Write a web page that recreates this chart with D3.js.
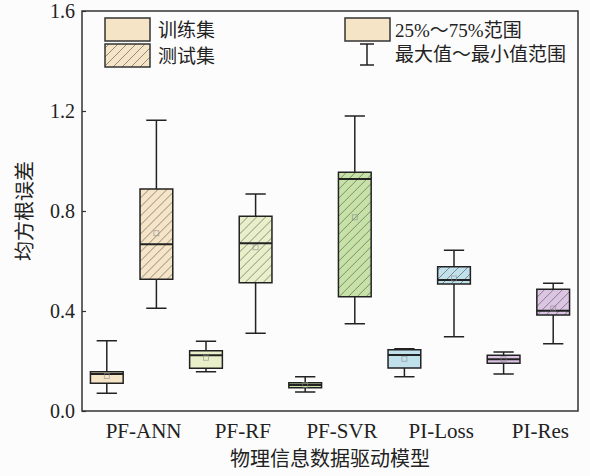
<!DOCTYPE html>
<html>
<head>
<meta charset="utf-8">
<script src="https://cdn.jsdelivr.net/npm/d3@7/dist/d3.min.js"></script>
<style>
  html, body { margin: 0; padding: 0; background: #fcfcfc; overflow: hidden; }
  svg { display: block; }
  text { font-family: "Liberation Serif", "Noto Sans CJK SC", serif; fill: #222; }
  .cjk { font-family: "Noto Sans CJK SC", "Liberation Serif", serif; }
</style>
</head>
<body>
<svg id="chart" width="590" height="476"></svg>
<script>
// models on the x axis
const categories = ['PF-ANN', 'PF-RF', 'PF-SVR', 'PI-Loss', 'PI-Res'];
const colors = ['#f5e4c6', '#e9efc9', '#c6e2a6', '#c0e0ec', '#dcc4e3'];

// [min, q1, median, q3, max, mean] of RMSE
const trainStats = [
  [0.071, 0.111, 0.148, 0.157, 0.281, 0.140],
  [0.157, 0.171, 0.223, 0.241, 0.279, 0.213],
  [0.076, 0.093, 0.104, 0.113, 0.137, 0.104],
  [0.137, 0.172, 0.224, 0.245, 0.249, 0.209],
  [0.148, 0.191, 0.207, 0.223, 0.236, 0.207]
];
const testStats = [
  [0.411, 0.527, 0.667, 0.888, 1.163, 0.711],
  [0.311, 0.513, 0.671, 0.779, 0.868, 0.655],
  [0.349, 0.457, 0.928, 0.955, 1.180, 0.775],
  [0.297, 0.508, 0.524, 0.577, 0.643, 0.530],
  [0.269, 0.384, 0.401, 0.487, 0.511, 0.410]
];
const yTicks = [0, 0.4, 0.8, 1.2, 1.6];
const sets = ['train', 'test'];

const svg = d3.select('#chart');
const margin = { top: 11, right: 12, bottom: 65, left: 82 };
const width = +svg.attr('width');
const height = +svg.attr('height');
const innerWidth = width - margin.left - margin.right;
const innerHeight = height - margin.top - margin.bottom;

// hatch pattern for the test set
const defs = svg.append('defs');
defs.append('pattern')
    .attr('id', 'hatch')
    .attr('patternUnits', 'userSpaceOnUse')
    .attr('width', 9)
    .attr('height', 9)
  .append('path')
    .attr('d', 'M-1,1 l2,-2 M0,9 l9,-9 M8,10 l2,-2')
    .attr('stroke', '#555')
    .attr('stroke-width', 0.8)
    .attr('opacity', 0.8);

const xScale = d3.scaleBand()
    .domain(categories)
    .range([0, innerWidth]);

const xInner = d3.scaleBand()
    .domain(sets)
    .range([0, xScale.bandwidth()]);

const yScale = d3.scaleLinear()
    .domain([0, 1.6])
    .range([innerHeight, 0]);

const g = svg.append('g')
    .attr('transform', `translate(${margin.left}, ${margin.top})`);

// boxes
const boxW = xInner.bandwidth() * 0.66;
const capW = boxW * 0.62;
const rows = [];
categories.forEach((c, i) => {
    rows.push({ cat: c, set: 'train', s: trainStats[i], color: colors[i] });
    rows.push({ cat: c, set: 'test', s: testStats[i], color: colors[i] });
});

const boxes = g.selectAll('.box')
  .data(rows)
  .enter()
  .append('g')
    .attr('class', 'box')
    .attr('transform', d => `translate(${xScale(d.cat) + xInner(d.set) + xInner.bandwidth() / 2}, 0)`);

// whiskers
boxes.append('line')
    .attr('x1', 0).attr('x2', 0)
    .attr('y1', d => yScale(d.s[0]))
    .attr('y2', d => yScale(d.s[1]))
    .attr('stroke', '#222').attr('stroke-width', 1.5);
boxes.append('line')
    .attr('x1', 0).attr('x2', 0)
    .attr('y1', d => yScale(d.s[3]))
    .attr('y2', d => yScale(d.s[4]))
    .attr('stroke', '#222').attr('stroke-width', 1.5);
[0, 4].forEach(k => {
    boxes.append('line')
        .attr('x1', -capW / 2).attr('x2', capW / 2)
        .attr('y1', d => yScale(d.s[k]))
        .attr('y2', d => yScale(d.s[k]))
        .attr('stroke', '#222').attr('stroke-width', 1.5);
});

boxes.append('rect')
    .attr('x', -boxW / 2)
    .attr('width', boxW)
    .attr('y', d => yScale(d.s[3]))
    .attr('height', d => yScale(d.s[1]) - yScale(d.s[3]))
    .attr('fill', d => d.color);

boxes.filter(d => d.set === 'test')
  .append('rect')
    .attr('x', -boxW / 2)
    .attr('width', boxW)
    .attr('y', d => yScale(d.s[3]))
    .attr('height', d => yScale(d.s[1]) - yScale(d.s[3]))
    .attr('fill', 'url(#hatch)');

boxes.append('rect')
    .attr('x', -boxW / 2)
    .attr('width', boxW)
    .attr('y', d => yScale(d.s[3]))
    .attr('height', d => yScale(d.s[1]) - yScale(d.s[3]))
    .attr('fill', 'none')
    .attr('stroke', '#222')
    .attr('stroke-width', 1.5);

// median
boxes.append('line')
    .attr('x1', -boxW / 2).attr('x2', boxW / 2)
    .attr('y1', d => yScale(d.s[2]))
    .attr('y2', d => yScale(d.s[2]))
    .attr('stroke', '#222').attr('stroke-width', 2);

// mean marker
boxes.append('rect')
    .attr('x', -2.5)
    .attr('y', d => yScale(d.s[5]) - 2.5)
    .attr('width', 5).attr('height', 5)
    .attr('fill', 'none')
    .attr('stroke', '#888')
    .attr('stroke-width', 0.8)
    .attr('opacity', 0.7);

// axes
const yAxis = d3.axisLeft(yScale)
    .tickValues(yTicks)
    .tickFormat(d3.format('.1f'))
    .tickSize(-4)
    .tickPadding(7);

const yAxisG = g.append('g').call(yAxis);
yAxisG.select('.domain').remove();
yAxisG.selectAll('.tick line').attr('stroke', '#333').attr('stroke-width', 1.2);
yAxisG.selectAll('.tick text')
    .style('font-size', '20px')
    .style('font-family', '"Liberation Serif", serif')
    .attr('fill', '#222');

const xAxisG = g.append('g')
    .attr('transform', `translate(0, ${innerHeight})`)
    .call(d3.axisBottom(xScale).tickSize(0).tickPadding(12));
xAxisG.select('.domain').remove();
xAxisG.selectAll('.tick text')
    .attr('x', 12)
    .style('font-size', '21px')
    .style('font-family', '"Liberation Serif", serif')
    .attr('fill', '#222');

// frame
g.append('rect')
    .attr('width', innerWidth)
    .attr('height', innerHeight)
    .attr('fill', 'none')
    .attr('stroke', '#333')
    .attr('stroke-width', 1.5);

// axis titles
svg.append('text')
    .attr('class', 'cjk')
    .attr('x', margin.left + innerWidth / 2)
    .attr('y', 466)
    .attr('text-anchor', 'middle')
    .style('font-size', '20px')
    .text('物理信息数据驱动模型');

svg.append('text')
    .attr('class', 'cjk')
    .attr('transform', 'translate(32, 211) rotate(-90)')
    .attr('text-anchor', 'middle')
    .style('font-size', '20px')
    .text('均方根误差');

// legend
const legend = svg.append('g');
const legendItems = [
    { label: '训练集', x: 105, y: 18, hatch: false },
    { label: '测试集', x: 105, y: 44, hatch: true }
];
legendItems.forEach(it => {
    legend.append('rect')
        .attr('x', it.x).attr('y', it.y)
        .attr('width', 45).attr('height', 23)
        .attr('fill', colors[0]);
    if (it.hatch) {
        legend.append('rect')
            .attr('x', it.x).attr('y', it.y)
            .attr('width', 45).attr('height', 23)
            .attr('fill', 'url(#hatch)');
    }
    legend.append('rect')
        .attr('x', it.x).attr('y', it.y)
        .attr('width', 45).attr('height', 23)
        .attr('fill', 'none')
        .attr('stroke', '#333').attr('stroke-width', 1.5);
    legend.append('text')
        .attr('class', 'cjk')
        .attr('x', it.x + 53)
        .attr('y', it.y + 12)
        .attr('dy', '0.35em')
        .style('font-size', '19px')
        .text(it.label);
});

legend.append('rect')
    .attr('x', 345).attr('y', 18)
    .attr('width', 45).attr('height', 23)
    .attr('fill', colors[0])
    .attr('stroke', '#333').attr('stroke-width', 1.5);
legend.append('text')
    .attr('x', 395).attr('y', 30)
    .attr('dy', '0.35em')
    .style('font-size', '19px')
    .text('25%～75%范围');

// whisker symbol
legend.append('line')
    .attr('x1', 367).attr('x2', 367).attr('y1', 44).attr('y2', 65)
    .attr('stroke', '#222').attr('stroke-width', 1.5);
[44, 65].forEach(yy => {
    legend.append('line')
        .attr('x1', 360).attr('x2', 374).attr('y1', yy).attr('y2', yy)
        .attr('stroke', '#222').attr('stroke-width', 1.5);
});
legend.append('text')
    .attr('class', 'cjk')
    .attr('x', 395).attr('y', 54)
    .attr('dy', '0.35em')
    .style('font-size', '19px')
    .text('最大值～最小值范围');
</script>
</body>
</html>
